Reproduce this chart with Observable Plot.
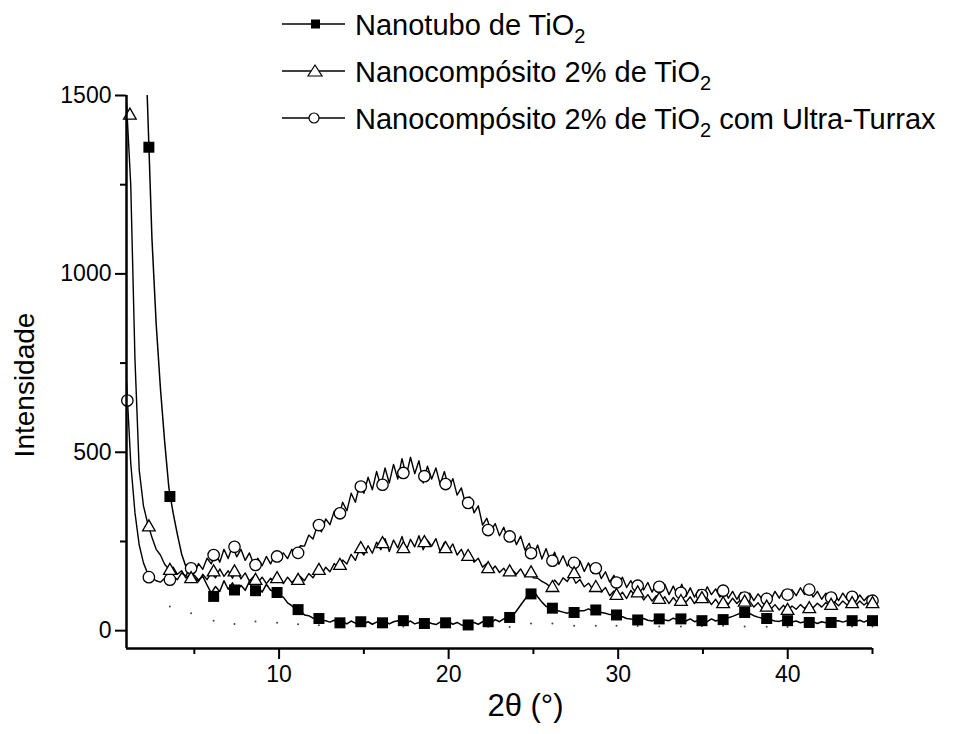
<!DOCTYPE html>
<html>
<head>
<meta charset="utf-8">
<script src="https://cdn.jsdelivr.net/npm/d3@7"></script>
<script src="https://cdn.jsdelivr.net/npm/@observablehq/plot@0.6"></script>
<style>
  body { margin: 0; background: #fff; }
  #wrap { position: relative; width: 954px; height: 734px; font-family: "Liberation Sans", Arial, Helvetica, sans-serif; }
  #wrap svg.plot { position: absolute; left: 0; top: 0; }
  .leg { position: absolute; left: 355px; font-size: 29px; line-height: 30px; white-space: nowrap; color: #000; }
  .leg sub { font-size: 20px; vertical-align: baseline; position: relative; top: 8px; }
  #legsym { position: absolute; left: 0; top: 0; }
</style>
</head>
<body>
<div id="wrap"></div>
<script>
// ---- sampling grid (2θ, degrees) ----
const angles = d3.range(1, 45.001, 0.25);

// ---- series: intensity at each angle (4 values per degree) ----
const nanotubo = [
  /* 1 */ null, null, null, null,
  /* 2 */ 1810, 1460, 1100, 860,
  /* 3 */ 680, 530, 400, 330,
  /* 4 */ 270, 215, 180, 165,
  /* 5 */ 155, 142, 152, 128,
  /* 6 */ 105, 124, 110, 140,
  /* 7 */ 116, 134, 108, 127,
  /* 8 */ 113, 138, 110, 124,
  /* 9 */ 108, 130, 113, 110,
  /* 10 */ 98, 94, 78, 70,
  /* 11 */ 58, 57, 44, 42,
  /* 12 */ 35, 34, 29, 28,
  /* 13 */ 24, 29, 21, 25,
  /* 14 */ 19, 27, 21, 26,
  /* 15 */ 19, 25, 18, 24,
  /* 16 */ 20, 27, 19, 25,
  /* 17 */ 28, 24, 21, 27,
  /* 18 */ 19, 23, 18, 25,
  /* 19 */ 20, 17, 24, 20,
  /* 20 */ 25, 18, 23, 16,
  /* 21 */ 14, 21, 23, 18,
  /* 22 */ 25, 24, 22, 31,
  /* 23 */ 25, 33, 35, 41,
  /* 24 */ 55, 72, 88, 108,
  /* 25 */ 112, 95, 80, 68,
  /* 26 */ 62, 58, 55, 52,
  /* 27 */ 49, 54, 49, 56,
  /* 28 */ 56, 61, 55, 59,
  /* 29 */ 51, 49, 45, 45,
  /* 30 */ 41, 39, 34, 33,
  /* 31 */ 29, 32, 34, 29,
  /* 32 */ 27, 34, 35, 30,
  /* 33 */ 28, 35, 31, 31,
  /* 34 */ 27, 33, 25, 29,
  /* 35 */ 30, 25, 33, 27,
  /* 36 */ 31, 33, 36, 40,
  /* 37 */ 45, 50, 52, 48,
  /* 38 */ 42, 38, 35, 33,
  /* 39 */ 30, 27, 26, 30,
  /* 40 */ 26, 24, 27, 22,
  /* 41 */ 25, 21, 25, 20,
  /* 42 */ 25, 22, 22, 27,
  /* 43 */ 28, 24, 28, 29,
  /* 44 */ 25, 29, 24, 30,
  /* 45 */ 28
];

const nano2 = [
  /* 1 */ 1480, 1250, 760, 450,
  /* 2 */ 350, 300, 262, 228,
  /* 3 */ 212, 186, 172, 178,
  /* 4 */ 158, 168, 148, 158,
  /* 5 */ 148, 138, 158, 143,
  /* 6 */ 162, 148, 173, 152,
  /* 7 */ 168, 147, 170, 145,
  /* 8 */ 162, 139, 152, 135,
  /* 9 */ 150, 132, 147, 138,
  /* 10 */ 153, 132, 150, 135,
  /* 11 */ 147, 152, 140, 160,
  /* 12 */ 148, 168, 158, 178,
  /* 13 */ 165, 188, 175, 198,
  /* 14 */ 187, 214, 197, 228,
  /* 15 */ 212, 238, 217, 248,
  /* 16 */ 227, 258, 222, 254,
  /* 17 */ 232, 264, 225, 256,
  /* 18 */ 235, 266, 227, 254,
  /* 19 */ 237, 258, 222, 248,
  /* 20 */ 225, 243, 212, 228,
  /* 21 */ 202, 218, 192, 203,
  /* 22 */ 178, 188, 168, 181,
  /* 23 */ 163, 175, 156, 171,
  /* 24 */ 158, 173, 152, 168,
  /* 25 */ 148, 147, 138, 132,
  /* 26 */ 123, 142, 128, 148,
  /* 27 */ 138, 158, 133, 143,
  /* 28 */ 123, 133, 116, 128,
  /* 29 */ 108, 121, 98, 111,
  /* 30 */ 93, 108, 90, 113,
  /* 31 */ 96, 108, 86, 101,
  /* 32 */ 83, 98, 80, 95,
  /* 33 */ 76, 93, 78, 91,
  /* 34 */ 80, 95, 76, 93,
  /* 35 */ 80, 91, 73, 88,
  /* 36 */ 70, 85, 74, 91,
  /* 37 */ 76, 88, 70, 83,
  /* 38 */ 66, 78, 63, 75,
  /* 39 */ 60, 73, 58, 71,
  /* 40 */ 56, 69, 60, 73,
  /* 41 */ 62, 75, 64, 77,
  /* 42 */ 66, 79, 68, 81,
  /* 43 */ 70, 83, 72, 81,
  /* 44 */ 70, 83, 72, 81,
  /* 45 */ 75
];

const nano2Turrax = [
  /* 1 */ 700, 470, 330, 240,
  /* 2 */ 190, 160, 148, 140,
  /* 3 */ 136, 147, 138, 152,
  /* 4 */ 143, 162, 153, 178,
  /* 5 */ 162, 188, 172, 203,
  /* 6 */ 187, 218, 192, 228,
  /* 7 */ 202, 238, 207, 228,
  /* 8 */ 197, 218, 187, 203,
  /* 9 */ 182, 208, 187, 213,
  /* 10 */ 197, 218, 202, 228,
  /* 11 */ 212, 238, 237, 268,
  /* 12 */ 257, 293, 277, 313,
  /* 13 */ 297, 335, 316, 360,
  /* 14 */ 336, 385, 360, 410,
  /* 15 */ 385, 430, 395, 446,
  /* 16 */ 405, 456, 414, 466,
  /* 17 */ 425, 482, 434, 486,
  /* 18 */ 440, 476, 414, 461,
  /* 19 */ 425, 456, 410, 446,
  /* 20 */ 400, 426, 380, 400,
  /* 21 */ 355, 375, 330, 350,
  /* 22 */ 296, 315, 281, 300,
  /* 23 */ 266, 290, 256, 275,
  /* 24 */ 241, 265, 226, 245,
  /* 25 */ 211, 240, 201, 230,
  /* 26 */ 194, 220, 186, 210,
  /* 27 */ 181, 205, 174, 195,
  /* 28 */ 166, 190, 161, 180,
  /* 29 */ 146, 165, 136, 155,
  /* 30 */ 126, 150, 121, 140,
  /* 31 */ 116, 140, 114, 135,
  /* 32 */ 108, 133, 111, 130,
  /* 33 */ 101, 125, 98, 130,
  /* 34 */ 96, 120, 94, 115,
  /* 35 */ 96, 123, 101, 117,
  /* 36 */ 94, 115, 91, 110,
  /* 37 */ 88, 107, 86, 105,
  /* 38 */ 84, 103, 88, 105,
  /* 39 */ 86, 110, 91, 113,
  /* 40 */ 94, 115, 98, 120,
  /* 41 */ 101, 117, 94, 110,
  /* 42 */ 88, 105, 86, 103,
  /* 43 */ 84, 105, 88, 103,
  /* 44 */ 81, 100, 84, 97,
  /* 45 */ 85
];

// ---- marker positions and values ----
const markerAngles = [1.05, 1.2, 2.32, 3.56, 4.81, 6.14, 7.37, 8.61, 9.88, 11.12, 12.35, 13.59, 14.82, 16.1, 17.33, 18.57, 19.82, 21.15, 22.33, 23.6, 24.86, 26.12, 27.4, 28.68, 29.9, 31.15, 32.42, 33.7, 34.94, 36.19, 37.46, 38.76, 39.99, 41.27, 42.56, 43.8, 45.0];
const nanotuboMarks = [null, null, 1355, 376, null, 96, 114, 112, 107, 59, 34, 22, 25, 22, 28, 20, 22, 16, 25, 37, 103, 63, 51, 58, 44, 30, 33, 33, 28, 31, 51, 34, 28, 23, 23, 28, 28];
const nano2Marks = [null, 1444, 290, 168, 145, 164, 164, 140, 145, 140, 168, 182, 229, 243, 229, 246, 229, 207, 173, 164, 161, 120, 159, 120, 98, 105, 87, 81, 89, 75, 79, 65, 56, 61, 70, 75, 75];
const nano2TurraxMarks = [645, null, 150, 143, 175, 212, 235, 184, 208, 218, 296, 329, 404, 409, 442, 433, 411, 358, 282, 264, 217, 196, 190, 175, 135, 126, 123, 106, 100, 112, 93, 89, 101, 115, 93, 95, 84];
const baselineDots = [null, null, null, 68, 49, 28, 19, 26, 22, 18, 15, 14, 13, 13, 12, 12, 12, 12, 11, 10, 20, 20, 14, 14, 14, 13, 12, 12, 13, 14, 12, 11, 10, 10, 11, 12, 12];

// ---- axis ticks & labels ----
const xMajor = [10, 20, 30, 40];
const xMinor = [5, 15, 25, 35, 45];
const yMajor = [0, 500, 1000, 1500];
const yMinor = [250, 750, 1250];
const xTitle = "2θ (°)";
const yTitle = "Intensidade";
const seriesNames = ["Nanotubo de TiO", "Nanocompósito 2% de TiO", "Nanocompósito 2% de TiO"];
const seriesTails = ["", "", " com Ultra-Turrax"];

const rows = vals => angles.map((a, i) => ({a, v: vals[i]}));
const marks = vals => markerAngles.map((a, i) => ({a, v: vals[i]})).filter(d => d.v != null);

const font = '"Liberation Sans", Arial, Helvetica, sans-serif';

const chart = Plot.plot({
  width: 954,
  height: 734,
  marginLeft: 126,
  marginRight: 82,
  marginTop: 95,
  marginBottom: 86,
  style: {fontFamily: font, fontSize: "23px", color: "#000", background: "transparent", overflow: "visible"},
  x: {domain: [1, 45]},
  y: {domain: [-50, 1500]},
  marks: [
    Plot.dot(marks(baselineDots), {x: "a", y: "v", r: 1, fill: "#444", stroke: "none"}),
    Plot.line(rows(nano2Turrax), {x: "a", y: "v", stroke: "#000", strokeWidth: 1.4, clip: true}),
    Plot.line(rows(nano2), {x: "a", y: "v", stroke: "#000", strokeWidth: 1.4, clip: true}),
    Plot.line(rows(nanotubo), {x: "a", y: "v", stroke: "#000", strokeWidth: 1.5, clip: true}),
    Plot.dot(marks(nano2TurraxMarks), {x: "a", y: "v", symbol: "circle", r: 5.7, fill: "#fff", stroke: "#000", strokeWidth: 1.3}),
    Plot.dot(marks(nano2Marks), {x: "a", y: "v", symbol: "triangle", r: 4.7, fill: "#fff", stroke: "#000", strokeWidth: 1.3}),
    Plot.dot(marks(nanotuboMarks), {x: "a", y: "v", symbol: "square", r: 6.2, fill: "#000", stroke: "none"}),
    Plot.ruleX([1], {stroke: "#000", strokeWidth: 2.5}),
    Plot.ruleY([-50], {stroke: "#000", strokeWidth: 2.5}),
    Plot.axisX({ticks: xMajor, tickSize: 11, tickPadding: 6, strokeWidth: 2, fontSize: 23, tickFormat: d => String(d), label: null}),
    Plot.axisX({ticks: xMinor, tickSize: 6, strokeWidth: 2, tickFormat: () => "", label: null}),
    Plot.axisY({ticks: yMajor, tickSize: 11, tickPadding: 4, strokeWidth: 2, fontSize: 23, tickFormat: d => String(d), label: null}),
    Plot.axisY({ticks: yMinor, tickSize: 6, strokeWidth: 2, tickFormat: () => "", label: null}),
    Plot.text([yTitle], {frameAnchor: "left", rotate: -90, dx: -101, dy: 13, fontSize: 28, textAnchor: "middle", lineAnchor: "middle"}),
    Plot.text([xTitle], {frameAnchor: "bottom", dx: 26, dy: 58, fontSize: 31, textAnchor: "middle", lineAnchor: "middle"})
  ]
});
chart.classList.add("plot");
const wrap = document.getElementById("wrap");
wrap.append(chart);

// ---- legend ----
const legRows = [24, 71, 118];
const tops = [10, 57, 104];
const ns = "http://www.w3.org/2000/svg";
const lsvg = document.createElementNS(ns, "svg");
lsvg.setAttribute("id", "legsym");
lsvg.setAttribute("width", 360);
lsvg.setAttribute("height", 140);
legRows.forEach((cy, i) => {
  const ln = document.createElementNS(ns, "line");
  ln.setAttribute("x1", 282); ln.setAttribute("x2", 345);
  ln.setAttribute("y1", cy); ln.setAttribute("y2", cy);
  ln.setAttribute("stroke", "#000"); ln.setAttribute("stroke-width", 1.3);
  lsvg.append(ln);
  let s;
  if (i === 0) {
    s = document.createElementNS(ns, "rect");
    s.setAttribute("x", 311); s.setAttribute("y", cy - 4.5); s.setAttribute("width", 9); s.setAttribute("height", 9);
    s.setAttribute("fill", "#000");
  } else if (i === 1) {
    s = document.createElementNS(ns, "path");
    s.setAttribute("d", `M315,${cy - 6} L322,${cy + 5} L308,${cy + 5} Z`);
    s.setAttribute("fill", "#fff"); s.setAttribute("stroke", "#000"); s.setAttribute("stroke-width", 1.2);
  } else {
    s = document.createElementNS(ns, "circle");
    s.setAttribute("cx", 314); s.setAttribute("cy", cy); s.setAttribute("r", 5);
    s.setAttribute("fill", "#fff"); s.setAttribute("stroke", "#000"); s.setAttribute("stroke-width", 1.2);
  }
  lsvg.append(s);
  const div = document.createElement("div");
  div.className = "leg";
  div.style.top = tops[i] + "px";
  div.innerHTML = seriesNames[i] + "<sub>2</sub>" + seriesTails[i];
  wrap.append(div);
});
wrap.append(lsvg);
</script>
</body>
</html>
